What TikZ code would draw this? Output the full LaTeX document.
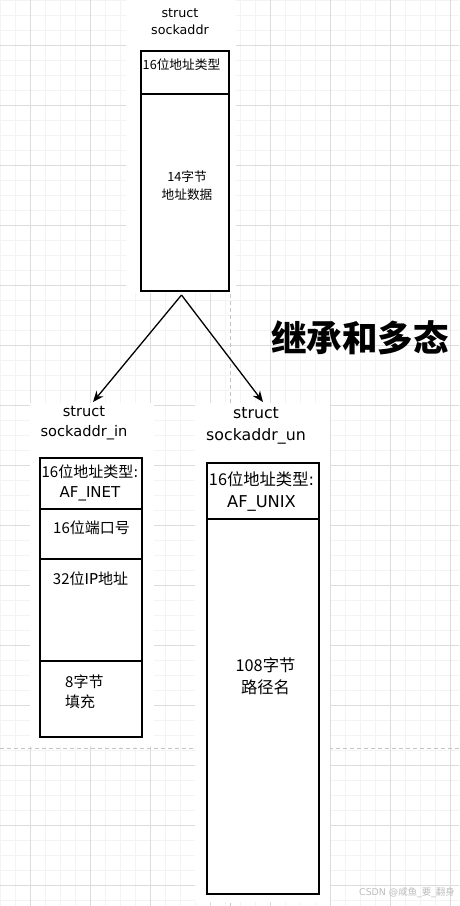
\documentclass[tikz,border=0pt]{standalone}
\usepackage{fontspec}
\setmainfont{DejaVu Sans}
\newfontfamily\cjk{Noto Sans CJK SC}
\usetikzlibrary{arrows.meta}
\definecolor{gridminor}{HTML}{F3F3F3}
\definecolor{gridmajor}{HTML}{DCDCDC}
\definecolor{pagebreak}{HTML}{C4C4C4}
\definecolor{wmark}{HTML}{BDBDBD}
\newcommand\setfs[2]{\fontsize{#1}{#2}\selectfont}
\tikzset{
  cell/.style={draw=black, line width=2.2pt, fill=white, inner sep=0pt, anchor=north west},
  txt/.style={inner sep=0pt, align=center, text=black},
  fsA/.style={font=\setfs{12.7}{17.3}},
  fsB/.style={font=\setfs{15}{20.4}},
  fsBl/.style={font=\setfs{14.6}{20}},
  fsC/.style={font=\setfs{16.3}{22}},
  fsCl/.style={font=\setfs{15.8}{22}},
  conn/.style={line width=1.3pt, -{Stealth[length=11pt,width=9pt]}},
}
\begin{document}
\begin{tikzpicture}[x=1pt,y=-1pt]
\useasboundingbox (0,0) rectangle (459,906);
\fill[white] (0,0) rectangle (459,906);
% grid
\foreach \i in {0,15,...,450} \draw[gridminor, line width=1pt] (\i,0) -- (\i,906);
\foreach \j in {0,15,...,900} \draw[gridminor, line width=1pt] (0,\j) -- (459,\j);
\foreach \i in {30,90,...,450} \draw[gridmajor, line width=1pt] (\i,0) -- (\i,906);
\foreach \j in {45,105,...,885} \draw[gridmajor, line width=1pt] (0,\j) -- (459,\j);
% page break lines
\draw[pagebreak, line width=1pt, dash pattern=on 4pt off 3pt] (0,748) -- (459,748);
\draw[pagebreak, line width=1pt, dash pattern=on 4pt off 3pt] (230,0) -- (230,906);
% white patches
\fill[white] (126,0) rectangle (236,293);
\fill[white] (30,403) rectangle (154,746);
\fill[white] (195,403) rectangle (330,902);

% struct sockaddr
\node[txt, fsA] (lblS) at (180,21.5) {struct\\sockaddr};
\node[cell, minimum width=88pt, minimum height=43pt] (s1) at (140,50) {};
\node[cell, minimum width=88pt, minimum height=197pt] (s2) at (140,93) {};
\node[txt, fsA] (s1t) at (181.5,65) {\cjk 16位地址类型};
\node[txt, fsA] (s2t) at (187,185.5) {\cjk 14字节\\\cjk 地址数据};

% struct sockaddr_in
\node[txt, fsBl] (lblI) at (84,423.5) {struct\\sockaddr\_in};
\node[cell, minimum width=102pt, minimum height=51pt] (i1) at (39,457) {};
\node[cell, minimum width=102pt, minimum height=50pt] (i2) at (39,508) {};
\node[cell, minimum width=102pt, minimum height=102pt] (i3) at (39,558) {};
\node[cell, minimum width=102pt, minimum height=76pt] (i4) at (39,660) {};
\node[txt, fsB] (i1t) at (90,483) {{\cjk 16位地址类型}:\\AF\_INET};
\node[txt, fsB] (i2t) at (91.5,527.7) {\cjk 16位端口号};
\node[txt, fsB] (i3t) at (90.5,579) {{\cjk 32位}IP{\cjk 地址}};
\node[txt, fsB, align=left, anchor=west] (i4t) at (65,691.5) {\cjk 8字节\\\cjk 填充};

% struct sockaddr_un
\node[txt, fsCl] (lblU) at (256,426) {struct\\sockaddr\_un};
\node[cell, minimum width=112pt, minimum height=56pt] (u1) at (206,462) {};
\node[cell, minimum width=112pt, minimum height=375pt] (u2) at (206,518) {};
\node[txt, fsC] (u1t) at (261.5,492) {{\cjk 16位地址类型}:\\AF\_UNIX};
\node[txt, fsC] (u2t) at (265.5,676) {\cjk 108字节\\\cjk 路径名};

% connectors
\coordinate (apex) at (181.5,295);
\coordinate (tipL) at (93,402);
\coordinate (tipR) at (263,402);
\draw[conn] (apex) -- (tipL);
\draw[conn] (apex) -- (tipR);

% title
\node[txt, font=\cjk\bfseries\setfs{35.5}{40}] (title) at (360,338) {继承和多态};

% watermark
\node[txt, text=wmark, font=\setfs{9.4}{11}] (wm) at (407,893) {CSDN @{\cjk 咸鱼}\_{\cjk 要}\_{\cjk 翻身}};
\end{tikzpicture}
\end{document}
